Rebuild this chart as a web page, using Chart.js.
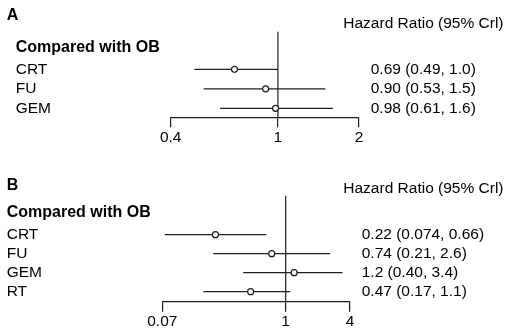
<!DOCTYPE html>
<html>
<head>
<meta charset="utf-8">
<script src="https://cdn.jsdelivr.net/npm/chart.js@4.4.1/dist/chart.umd.min.js"></script>
<style>
body { margin: 0; background: #fff; }
#wrap { position: relative; width: 510px; height: 335px; }
canvas { position: absolute; left: 0; }
</style>
</head>
<body>
<div id="wrap">
	<canvas id="chartA" width="510" height="167" style="top:0px"></canvas>
	<canvas id="chartB" width="510" height="168" style="top:167px"></canvas>
</div>
<script>
// Panel A
var groupsA = ['CRT', 'FU', 'GEM'];
var hrA = [0.69, 0.90, 0.98];
var loA = [0.49, 0.53, 0.61];
var hiA = [1.0, 1.5, 1.6];
var ciTextA = ['0.69 (0.49, 1.0)', '0.90 (0.53, 1.5)', '0.98 (0.61, 1.6)'];
var ticksA = [0.4, 1, 2];

// Panel B
var groupsB = ['CRT', 'FU', 'GEM', 'RT'];
var hrB = [0.22, 0.74, 1.2, 0.47];
var loB = [0.074, 0.21, 0.40, 0.17];
var hiB = [0.66, 2.6, 3.4, 1.1];
var ciTextB = ['0.22 (0.074, 0.66)', '0.74 (0.21, 2.6)', '1.2 (0.40, 3.4)', '0.47 (0.17, 1.1)'];
var ticksB = [0.07, 1, 4];

var INK = '#1e1e1e';
var FONT = '"Liberation Sans", Arial, sans-serif';

/*
 * Draws the panel letter, headers, row labels and estimate text
 */
var forestText = {
	id: 'forestText',
	afterDraw: function(chart, args, opts) {
		var ctx = chart.ctx;
		var yScale = chart.scales.y;
		var n = opts.groups.length;
		var i, y;

		ctx.save();
		ctx.fillStyle = '#000';
		ctx.textBaseline = 'middle';
		ctx.textAlign = 'left';

		ctx.font = 'bold 16px ' + FONT;
		ctx.fillText(opts.letter, opts.letterX, opts.letterY);
		ctx.fillText('Compared with OB', opts.labelX, yScale.getPixelForValue(n) - opts.headGap);

		ctx.font = '15.5px ' + FONT;
		ctx.fillText('Hazard Ratio (95% Crl)', 343.3, opts.hrY);

		for(i = 0; i < n; i++) {
			y = yScale.getPixelForValue(n - i);
			ctx.fillText(opts.groups[i], opts.labelX, y);
			ctx.fillText(opts.ciText[i], opts.valueX, y);
		}
		ctx.restore();
	}
};

function forestChart(canvasId, groups, hr, lo, hi, ciText, tickVals, layout) {
	var n = groups.length;
	var datasets = [];
	var i;

	// reference line at HR = 1
	datasets.push({
		type: 'line',
		data: [{x: 1, y: layout.yMax}, {x: 1, y: layout.yMin}],
		borderColor: INK,
		borderWidth: 1.2,
		pointRadius: 0,
		order: 3
	});

	// credible intervals
	for(i = 0; i < n; i++) {
		datasets.push({
			type: 'line',
			data: [{x: lo[i], y: n - i}, {x: hi[i], y: n - i}],
			borderColor: INK,
			borderWidth: 1.2,
			pointRadius: 0,
			order: 2
		});
	}

	// point estimates
	datasets.push({
		type: 'scatter',
		data: hr.map(function(v, i) { return {x: v, y: n - i}; }),
		pointStyle: 'circle',
		pointRadius: 3,
		pointBackgroundColor: '#fff',
		pointBorderColor: INK,
		pointBorderWidth: 1.2,
		order: 1
	});

	return new Chart(document.getElementById(canvasId), {
		type: 'scatter',
		data: { datasets: datasets },
		options: {
			responsive: false,
			animation: false,
			clip: false,
			layout: {
				padding: {
					left: layout.left,
					right: layout.right,
					top: layout.top,
					bottom: layout.bottom
				}
			},
			plugins: {
				legend: { display: false },
				tooltip: { enabled: false },
				forestText: {
					groups: groups,
					ciText: ciText,
					letter: layout.letter,
					letterX: 6.7,
					letterY: layout.letterY,
					labelX: layout.labelX,
					valueX: layout.valueX,
					hrY: layout.hrY,
					headGap: layout.headGap
				}
			},
			scales: {
				x: {
					type: 'logarithmic',
					min: tickVals[0],
					max: tickVals[tickVals.length - 1],
					afterBuildTicks: function(scale) {
						scale.ticks = tickVals.map(function(v) { return {value: v}; });
					},
					afterFit: function(scale) { scale.height = 30; },
					border: { display: true, color: INK, width: 1.2 },
					grid: {
						drawOnChartArea: false,
						drawTicks: true,
						tickLength: 10,
						color: INK,
						lineWidth: 1.2
					},
					ticks: {
						autoSkip: false,
						maxRotation: 0,
						padding: 1,
						color: '#000',
						font: { family: FONT, size: 15.5 },
						callback: function(value) { return String(value); }
					}
				},
				y: {
					display: false,
					min: layout.yMin,
					max: layout.yMax
				}
			}
		},
		plugins: [forestText]
	});
}

forestChart('chartA', groupsA, hrA, loA, hiA, ciTextA, ticksA, {
	left: 170.7, right: 151, top: 31.7, bottom: 167 - 117.3 - 30,
	yMin: 0.54, yMax: 4.93,
	letter: 'A', letterY: 15.3, labelX: 15.7, valueX: 370.7, hrY: 23.3, headGap: 21.8
});

forestChart('chartB', groupsB, hrB, loB, hiB, ciTextB, ticksB, {
	left: 162.3, right: 160, top: 28.7, bottom: 168 - 134.7 - 30,
	yMin: 0.47, yMax: 6.05,
	letter: 'B', letterY: 18.8, labelX: 6.7, valueX: 361.7, hrY: 21.3, headGap: 22.2
});
</script>
</body>
</html>
